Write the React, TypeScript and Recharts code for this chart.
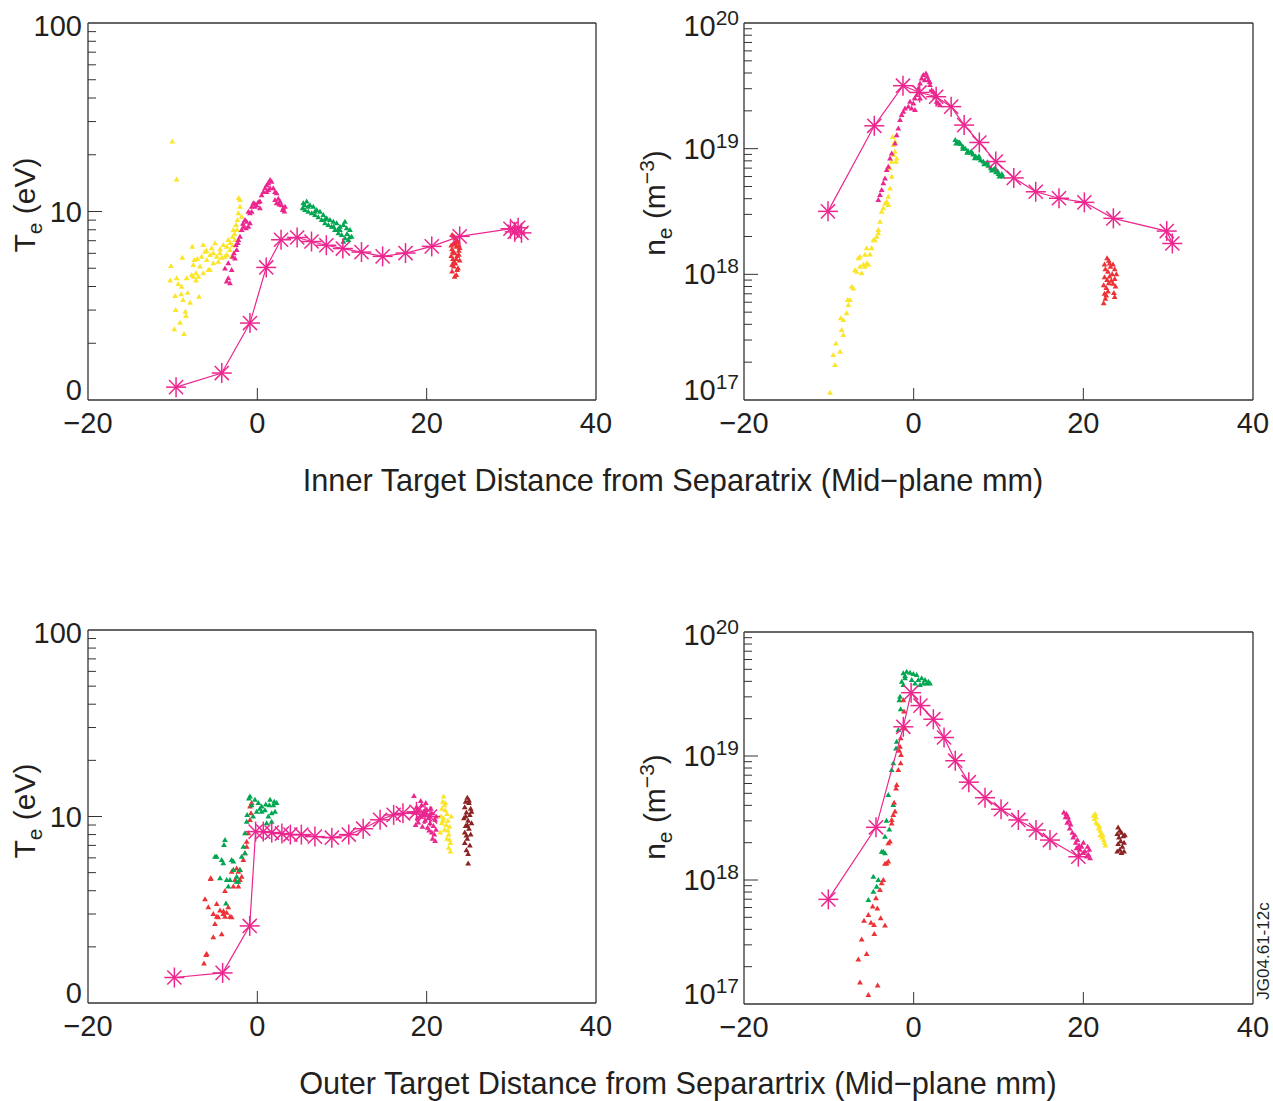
import { ScatterChart, Scatter, XAxis, YAxis, ReferenceLine } from 'recharts'

const YELLOW = '#fbe52a'
const MAGENTA = '#ec268f'
const GREEN = '#00a651'
const RED = '#ed3237'
const BROWN = '#8c2323'
const AXIS = '#333333'
const TEXT = '#231f20'
const FONT = '"Liberation Sans", Arial, Helvetica, sans-serif'

type Pt = [number, number]

const xTicks = [-20, 0, 20, 40]
const teTicks = [1, 2, 3, 4, 5, 6, 7, 8, 9, 10, 20, 30, 40, 50, 60, 70, 80, 90, 100]
const teLabels: Record<number, string> = { 1: '0', 10: '10', 100: '100' }
const neTicks = [
  1e17, 2e17, 3e17, 4e17, 5e17, 6e17, 7e17, 8e17, 9e17,
  1e18, 2e18, 3e18, 4e18, 5e18, 6e18, 7e18, 8e18, 9e18,
  1e19, 2e19, 3e19, 4e19, 5e19, 6e19, 7e19, 8e19, 9e19, 1e20,
]
const neLabels: Record<number, string> = { 1e17: '17', 1e18: '18', 1e19: '19', 1e20: '20' }

// ---- inner target, Te (eV)
const innerTeYellow: Pt[] = [
  [-10.04, 23.5], [-9.53, 14.8], [-10.2, 5.14], [-10.3, 4.3], [-9.7, 3.56], [-9.65, 3.0], [-9.8, 2.37],
  [-8.66, 2.24], [-9.13, 2.57], [-8.5, 2.94], [-8.43, 2.79], [-8.78, 3.39], [-8.23, 3.71], [-9.0, 3.64],
  [-9.33, 4.12], [-9.53, 4.42], [-8.94, 3.99], [-8.86, 5.69], [-8.35, 4.42], [-7.76, 4.61], [-7.95, 3.28],
  [-6.89, 3.53], [-7.25, 4.3], [-7.56, 5.2], [-7.44, 5.53], [-7.68, 6.51], [-6.77, 5.1], [-6.58, 5.76],
  [-6.38, 6.64], [-6.18, 6.12], [-5.98, 5.53], [-5.59, 5.88], [-5.39, 6.38], [-5.0, 6.78], [-5.2, 5.31],
  [-5.79, 4.89], [-6.38, 4.7], [-6.97, 4.51], [-4.8, 5.76], [-4.41, 6.0], [-4.02, 6.64], [-3.62, 6.51],
  [-3.23, 6.25], [-3.82, 5.76], [-3.43, 7.06], [-2.91, 7.35], [-2.83, 7.98], [-2.52, 8.48], [-2.36, 9.02],
  [-2.24, 9.78], [-2.05, 10.6], [-2.05, 11.5], [-1.85, 9.39], [-2.64, 7.06], [-3.03, 5.76], [-7.25, 4.7],
  [-7.56, 4.51], [-5.59, 4.89], [-4.6, 5.42], [-4.21, 5.69], [-2.2, 11.8], [-3.2, 6.8], [-2.9, 6.6],
  [-3.6, 5.9], [-4.4, 6.3], [-5.2, 6.0], [-2.4, 8.0], [-2.7, 7.6], [-6.0, 6.2], [-7.1, 5.6],
]
const innerTeMagenta: Pt[] = [
  [-3.62, 4.25], [-3.43, 4.42], [-3.23, 4.16], [-3.82, 4.99], [-3.03, 4.89], [-3.43, 5.31], [-2.91, 5.76],
  [-2.76, 6.0], [-2.64, 5.64], [-2.44, 6.25], [-2.52, 6.64], [-2.24, 7.06], [-2.05, 7.35], [-1.85, 7.98],
  [-1.65, 8.31], [-1.34, 8.14], [-1.06, 8.31], [-0.87, 8.66], [-1.26, 8.83], [-1.06, 9.98], [-0.67, 10.6],
  [-0.47, 11.05], [-0.08, 10.8], [0.31, 11.3], [0.51, 12.2], [0.71, 12.7], [0.91, 13.3], [1.1, 13.8],
  [1.3, 14.1], [1.5, 14.7], [1.69, 14.4], [1.89, 13.3], [2.09, 12.7], [2.28, 12.5], [2.48, 11.7],
  [2.68, 11.3], [2.87, 10.8], [3.07, 10.4], [3.27, 10.6], [2.28, 11.05], [2.09, 11.5], [1.5, 13.3],
  [1.1, 12.7], [0.31, 10.4], [-0.28, 10.6], [-0.67, 9.98], [-0.87, 9.78], [-1.46, 9.02], [3.0, 10.2],
  [3.2, 10.0], [-0.3, 11.0], [0.1, 11.2], [-1.7, 8.6], [-2.3, 6.8], [1.3, 13.0], [2.6, 10.9],
]
const innerTeGreen: Pt[] = [
  [5.43, 11.05], [5.83, 11.3], [6.22, 10.8], [6.61, 10.6], [7.01, 10.2], [7.4, 9.98], [7.79, 9.58],
  [8.19, 9.2], [8.58, 9.02], [8.98, 8.83], [9.37, 8.66], [9.76, 8.31], [10.16, 8.48], [10.55, 8.14],
  [10.94, 7.98], [11.14, 7.35], [10.75, 7.06], [10.35, 7.21], [9.96, 7.51], [9.57, 7.66], [9.17, 7.98],
  [8.78, 8.31], [8.39, 8.48], [7.99, 8.66], [7.6, 9.02], [7.2, 9.31], [6.81, 9.58], [6.42, 9.78],
  [6.02, 9.98], [5.63, 10.2], [5.35, 10.4], [10.35, 8.83], [9.76, 7.98], [10.16, 6.92], [5.6, 10.8],
  [6.0, 10.6], [6.8, 10.0], [8.0, 9.1], [9.0, 8.3], [9.5, 8.0], [10.6, 7.6], [10.9, 7.3],
]
const innerTeRed: Pt[] = [
  [23.0, 7.5], [23.4, 7.2], [23.7, 6.9], [23.2, 6.8], [23.5, 6.5], [23.0, 6.3], [23.8, 6.2], [23.3, 6.0],
  [23.6, 5.8], [23.1, 5.6], [23.9, 5.5], [23.4, 5.3], [23.2, 5.1], [23.7, 5.0], [23.0, 4.8], [23.5, 4.6],
  [23.3, 4.5], [23.8, 5.9], [22.9, 6.6], [23.6, 7.0], [23.2, 5.4], [23.8, 6.6], [22.9, 5.8], [23.5, 5.6],
  [23.1, 6.1], [23.6, 4.9], [23.2, 7.4], [23.9, 6.4], [23.4, 6.7], [23.0, 5.2],
]
const innerTeStars: Pt[] = [
  [-9.6, 1.17], [-4.2, 1.39], [-0.87, 2.56], [1.05, 5.05], [2.8, 7.08], [4.7, 7.28], [6.4, 6.93],
  [8.15, 6.62], [10.1, 6.36], [12.3, 6.09], [14.8, 5.78], [17.5, 6.02], [20.6, 6.53], [23.9, 7.38],
  [29.9, 8.1], [30.4, 7.8], [30.8, 8.2], [31.2, 7.7],
]

// ---- inner target, ne (m^-3)
const innerNeYellow: Pt[] = [
  [-9.86, 1.14e17], [-9.27, 1.9e17], [-9.47, 2.28e17], [-8.68, 2.42e17], [-9.16, 2.82e17], [-8.29, 3.29e17],
  [-8.49, 3.61e17], [-8.6, 4.47e17], [-8.29, 4.33e17], [-7.9, 4.9e17], [-7.7, 5.7e17], [-7.5, 6.24e17],
  [-7.78, 6.24e17], [-7.31, 7.98e17], [-7.11, 7.73e17], [-6.92, 1.08e18], [-6.72, 1.05e18], [-6.33, 1.15e18],
  [-6.13, 1.02e18], [-5.93, 1.19e18], [-5.74, 1.15e18], [-5.54, 1.22e18], [-5.34, 1.19e18], [-6.52, 1.34e18],
  [-6.33, 1.38e18], [-5.74, 1.43e18], [-5.54, 1.61e18], [-5.15, 1.44e18], [-4.95, 1.61e18], [-4.75, 1.87e18],
  [-4.36, 1.99e18], [-4.17, 2.12e18], [-4.56, 1.87e18], [-3.97, 2.62e18], [-3.77, 3.15e18], [-3.58, 3.35e18],
  [-3.38, 3.66e18], [-3.18, 3.78e18], [-2.99, 4.15e18], [-2.79, 4.83e18], [-2.59, 5.98e18], [-2.79, 6.97e18],
  [-2.59, 7.87e18], [-2.4, 8.89e18], [-2.2, 9.46e18], [-2.4, 1.07e19], [-2.2, 1.14e19], [-2.48, 1.24e19],
  [-2.08, 7.87e18], [-2.0, 8.36e18], [-2.99, 3.56e18], [-4.17, 2.25e18],
]
const innerNeMagenta: Pt[] = [
  [-4.17, 3.9e18], [-3.97, 4.28e18], [-3.77, 4.69e18], [-3.58, 5.3e18], [-3.38, 5.8e18], [-3.18, 6.76e18],
  [-2.99, 7.18e18], [-2.79, 8.36e18], [-2.59, 9.16e18], [-2.2, 1.1e19], [-2.0, 1.28e19], [-1.81, 1.45e19],
  [-1.61, 1.69e19], [-1.42, 1.85e19], [-1.22, 1.97e19], [-1.02, 2.09e19], [-0.63, 2.16e19], [-0.24, 2.09e19],
  [0.16, 2.03e19], [-0.43, 2.36e19], [-0.04, 2.29e19], [0.35, 2.67e19], [0.55, 3.01e19], [0.75, 3.3e19],
  [0.94, 3.62e19], [1.14, 3.85e19], [1.45, 3.97e19], [1.61, 3.73e19], [1.73, 3.52e19], [1.93, 3.21e19],
  [2.12, 2.92e19], [2.32, 2.84e19], [2.51, 2.59e19], [2.71, 2.36e19], [2.91, 2.29e19], [3.1, 2.22e19],
  [0.75, 2.51e19], [0.16, 2.51e19], [1.3, 3.5e19], [1.9, 3.4e19], [2.6, 2.7e19],
]
const innerNeGreen: Pt[] = [
  [4.9, 1.17e19], [5.2, 1.13e19], [5.5, 1.09e19], [5.8, 1.04e19], [6.1, 1.0e19], [6.4, 9.6e18], [6.7, 9.3e18],
  [7.0, 9.0e18], [7.3, 8.7e18], [7.6, 8.4e18], [7.9, 8.1e18], [8.2, 7.9e18], [8.5, 7.6e18], [8.8, 7.3e18],
  [9.1, 7.0e18], [9.4, 6.8e18], [9.7, 6.5e18], [10.0, 6.3e18], [10.3, 6.1e18], [10.5, 6.0e18], [5.0, 1.1e19],
  [5.4, 1.12e19], [5.8, 1.0e19], [6.3, 9.3e18], [6.8, 9.5e18], [7.2, 8.4e18], [7.7, 8.7e18], [8.3, 7.5e18],
  [8.7, 7.8e18], [9.2, 6.7e18], [9.6, 7.0e18], [10.1, 6.0e18], [10.4, 6.3e18], [9.9, 6.6e18],
]
const innerNeRed: Pt[] = [
  [22.5, 1.2e18], [22.8, 1.34e18], [23.0, 1.28e18], [22.6, 1.1e18], [22.9, 1.05e18], [23.2, 1.15e18],
  [23.5, 1.2e18], [23.7, 1.1e18], [22.5, 9.5e17], [22.8, 9.0e17], [23.1, 9.6e17], [23.4, 1.0e18],
  [23.7, 9.2e17], [23.9, 1.0e18], [22.4, 8.2e17], [22.7, 7.8e17], [23.0, 8.5e17], [23.5, 8.4e17],
  [23.8, 8.0e17], [22.5, 7.0e17], [22.6, 6.4e17], [22.4, 5.9e17], [22.7, 6.8e17], [23.6, 7.1e17],
  [23.7, 6.6e17], [23.1, 1.22e18], [22.9, 7.3e17], [23.3, 8.9e17],
]
const innerNeStars: Pt[] = [
  [-10.1, 3.17e18], [-4.64, 1.52e19], [-1.26, 3.17e19], [0.7, 2.8e19], [2.65, 2.59e19], [4.42, 2.16e19],
  [5.95, 1.54e19], [7.74, 1.12e19], [9.68, 7.9e18], [11.8, 5.85e18], [14.39, 4.54e18], [17.13, 4.03e18],
  [20.12, 3.74e18], [23.54, 2.79e18], [29.83, 2.21e18], [30.49, 1.76e18],
]

// ---- outer target, Te (eV)
const outerTeGreen: Pt[] = [
  [-0.87, 12.8], [-0.28, 12.3], [0.12, 11.8], [0.51, 11.3], [0.9, 10.8], [1.5, 12.3], [1.89, 11.5],
  [2.09, 10.6], [1.69, 10.4], [1.3, 10.0], [1.69, 9.38], [1.1, 9.19], [0.51, 10.6], [-0.08, 10.6],
  [-0.67, 11.5], [-1.26, 9.38], [-1.46, 8.12], [-1.65, 6.89], [-1.85, 6.09], [-1.46, 6.35], [-2.05, 5.17],
  [-2.44, 4.76], [-2.24, 4.47], [-2.83, 5.73], [-3.03, 5.85], [-3.23, 4.57], [-3.43, 4.21], [-3.62, 4.57],
  [-4.41, 4.66], [-4.02, 5.61], [-4.21, 5.85], [-4.8, 6.09], [-5.0, 6.09], [-3.82, 7.48], [-3.94, 7.03],
  [-3.7, 3.42], [-2.83, 5.17], [-2.44, 4.47], [2.28, 11.8], [1.42, 11.5], [-1.0, 12.5], [0.3, 11.0],
  [1.0, 11.6], [2.0, 12.0], [-0.5, 10.0], [-1.2, 10.2],
]
const outerTeRed: Pt[] = [
  [-6.18, 3.6], [-5.79, 3.26], [-5.98, 1.83], [-5.2, 2.25], [-5.0, 2.65], [-4.8, 3.4], [-4.61, 2.88],
  [-4.41, 3.13], [-4.21, 2.34], [-4.02, 3.0], [-3.82, 2.9], [-3.62, 3.05], [-3.43, 3.26], [-3.23, 2.9],
  [-3.03, 2.88], [-5.51, 4.62], [-3.82, 3.99], [-3.03, 5.06], [-2.83, 5.17], [-2.44, 5.27], [-2.05, 5.17],
  [-1.85, 4.76], [-2.24, 4.21], [-2.64, 4.57], [-2.83, 4.21], [-1.65, 5.85], [-1.46, 6.35], [-1.26, 6.89],
  [-1.26, 7.33], [-1.06, 8.12], [-0.87, 9.58], [-0.75, 10.4], [-0.87, 11.3], [-0.67, 11.8], [-2.24, 5.06],
  [-2.05, 4.57], [-4.8, 2.9], [-6.06, 1.81], [-6.3, 1.63], [-5.5, 4.66], [-5.2, 3.0], [-4.0, 3.1],
]
const outerTeMagenta: Pt[] = [
  [18.5, 12.9], [18.5, 10.5], [18.8, 11.2], [19.0, 10.8], [19.2, 10.0], [19.4, 11.5], [19.6, 10.3],
  [19.8, 9.5], [20.0, 10.9], [20.2, 9.8], [20.4, 9.2], [20.6, 10.4], [20.8, 8.9], [21.0, 9.6], [21.1, 8.5],
  [20.9, 8.0], [20.7, 7.6], [21.0, 7.4], [19.0, 9.3], [18.7, 9.0], [19.5, 8.8], [20.3, 8.4], [19.9, 11.8],
  [19.3, 12.1], [20.5, 11.0], [18.9, 9.8], [20.1, 8.7], [21.1, 10.0], [20.6, 8.2], [19.7, 10.6],
]
const outerTeYellow: Pt[] = [
  [22.0, 12.8], [21.9, 12.0], [22.1, 11.5], [21.8, 11.0], [22.2, 10.8], [22.4, 10.3], [21.7, 10.0],
  [22.0, 9.8], [22.5, 9.5], [22.3, 9.0], [21.8, 9.2], [22.7, 8.8], [22.1, 8.5], [22.6, 8.0], [22.4, 7.6],
  [22.8, 7.2], [22.6, 6.8], [22.8, 6.5], [21.6, 8.2], [22.9, 10.0], [22.2, 11.8], [22.5, 8.4], [21.9, 9.5],
  [22.7, 7.5],
]
const outerTeBrown: Pt[] = [
  [24.8, 12.6], [24.6, 12.0], [25.0, 11.8], [24.5, 11.2], [25.2, 11.0], [24.7, 10.5], [25.1, 10.2],
  [24.4, 9.8], [24.9, 9.5], [25.3, 9.2], [24.6, 8.9], [25.0, 8.6], [24.5, 8.2], [25.2, 8.0], [24.8, 7.6],
  [24.5, 7.2], [25.1, 7.0], [24.7, 6.6], [24.9, 6.3], [24.9, 5.6], [24.6, 10.0], [25.0, 12.2], [24.8, 9.0],
  [25.3, 10.6], [24.7, 7.9],
]
const outerTeStars: Pt[] = [
  [-9.8, 1.37], [-4.1, 1.45], [-0.9, 2.59], [-0.2, 8.3], [0.7, 8.3], [1.7, 8.2], [2.9, 8.1], [3.9, 8.0],
  [5.2, 8.0], [6.8, 7.8], [8.8, 7.7], [10.8, 8.0], [12.5, 8.6], [14.5, 9.6], [16.1, 10.2], [17.2, 10.4],
  [18.8, 10.6], [19.8, 10.3], [20.4, 10.0],
]

// ---- outer target, ne (m^-3)
const outerNeGreen: Pt[] = [
  [-1.22, 4.64e19], [-0.82, 4.79e19], [-0.43, 4.7e19], [-0.04, 4.58e19], [0.35, 4.5e19], [0.94, 4.23e19],
  [1.34, 4.1e19], [1.73, 3.97e19], [1.53, 3.85e19], [1.14, 3.85e19], [0.75, 3.73e19], [0.16, 3.85e19],
  [-0.23, 4.1e19], [-1.02, 4.23e19], [-1.41, 3.97e19], [-1.22, 3.73e19], [-1.61, 3.01e19], [-1.69, 2.82e19],
  [-1.53, 2.38e19], [-1.81, 1.62e19], [-2.08, 1.15e19], [-2.4, 8.73e18], [-2.59, 7.71e18], [-2.99, 4.84e18],
  [-2.4, 4.03e18], [-2.87, 2.56e18], [-3.38, 2.23e18], [-3.77, 1.69e18], [-3.38, 1.64e18], [-4.75, 1.06e18],
  [-4.17, 1.0e18], [-4.36, 8.83e17], [-4.75, 8.05e17], [-5.34, 6.9e17], [-3.58, 1.69e18], [-1.02, 4.42e19],
  [0.55, 4.1e19], [1.93, 3.85e19], [-2.0, 1.3e19], [-3.2, 3.0e18],
]
const outerNeRed: Pt[] = [
  [-1.22, 2.82e19], [-1.14, 2.28e19], [-1.02, 1.67e19], [-1.53, 1.39e19], [-1.61, 1.19e19], [-1.49, 1.02e19],
  [-1.53, 8.73e18], [-1.81, 7.71e18], [-2.0, 5.83e18], [-2.08, 5.48e18], [-2.2, 3.56e18], [-2.4, 3.34e18],
  [-2.59, 3.05e18], [-2.59, 2.86e18], [-2.79, 2.04e18], [-2.99, 1.98e18], [-3.18, 1.36e18], [-2.99, 1.41e18],
  [-3.38, 1.35e18], [-3.77, 9.4e17], [-3.58, 1.0e18], [-3.97, 8.3e17], [-4.44, 7.11e17], [-4.83, 6.1e17],
  [-4.28, 5.9e17], [-5.34, 5.22e17], [-3.89, 4.91e17], [-5.85, 4.7e17], [-5.03, 4.53e17], [-4.67, 4.34e17],
  [-3.38, 4.29e17], [-4.64, 3.67e17], [-6.13, 3.32e17], [-5.54, 2.53e17], [-6.52, 2.29e17], [-6.33, 1.49e17],
  [-4.24, 1.41e17], [-5.34, 1.18e17], [-1.7, 1.1e19], [-2.3, 4.2e18],
]
const outerNeMagenta: Pt[] = [
  [17.7, 3.5e18], [17.9, 3.2e18], [18.0, 3.4e18], [18.1, 2.9e18], [18.3, 3.0e18], [18.4, 2.6e18],
  [18.5, 2.8e18], [18.7, 2.4e18], [18.8, 2.2e18], [19.0, 2.3e18], [19.1, 2.0e18], [19.3, 2.1e18],
  [19.5, 1.9e18], [19.6, 1.75e18], [19.8, 1.85e18], [20.0, 1.65e18], [20.2, 1.7e18], [20.4, 1.55e18],
  [20.6, 1.6e18], [20.7, 1.75e18], [20.5, 1.85e18], [20.0, 2.0e18], [19.5, 1.6e18], [20.8, 1.5e18],
  [18.2, 3.2e18], [19.2, 1.8e18],
]
const outerNeYellow: Pt[] = [
  [21.2, 3.3e18], [21.3, 3.1e18], [21.5, 3.2e18], [21.5, 2.9e18], [21.7, 2.8e18], [21.8, 2.6e18],
  [21.9, 2.7e18], [22.0, 2.5e18], [22.1, 2.35e18], [22.2, 2.2e18], [22.3, 2.3e18], [22.4, 2.1e18],
  [22.5, 2.0e18], [22.6, 1.9e18], [21.4, 3.4e18], [22.0, 2.3e18],
]
const outerNeBrown: Pt[] = [
  [24.1, 2.65e18], [24.3, 2.5e18], [24.0, 2.35e18], [24.5, 2.4e18], [24.2, 2.2e18], [24.7, 2.25e18],
  [24.4, 2.05e18], [24.8, 2.0e18], [24.1, 1.95e18], [24.6, 1.85e18], [24.3, 1.75e18], [24.8, 1.7e18],
  [24.5, 1.65e18], [24.0, 1.7e18], [24.9, 2.3e18],
]
const outerNeStars: Pt[] = [
  [-10.06, 6.98e17], [-4.44, 2.66e18], [-1.22, 1.72e19], [-0.3, 3.24e19], [0.8, 2.55e19], [2.32, 1.98e19],
  [3.58, 1.41e19], [4.9, 9.16e18], [6.5, 6.15e18], [8.41, 4.61e18], [10.3, 3.72e18], [12.34, 3.05e18],
  [14.42, 2.53e18], [16.07, 2.1e18], [19.41, 1.54e18],
]

const toPts = (a: Pt[]) => a.map(([x, y]) => ({ x, y }))

const triangle = (color: string) => (p: any) => {
  const { cx, cy } = p
  if (cx == null || cy == null) return <g />
  return <path d={`M${cx},${cy - 3}L${cx + 2.9},${cy + 2}L${cx - 2.9},${cy + 2}Z`} fill={color} />
}

const StarShape = (p: any) => {
  const { cx, cy } = p
  if (cx == null || cy == null) return <g />
  const r = 10
  const d = r * 0.7071
  return (
    <g stroke={MAGENTA} strokeWidth={1.5}>
      <line x1={cx - r} y1={cy} x2={cx + r} y2={cy} />
      <line x1={cx} y1={cy - r} x2={cx} y2={cy + r} />
      <line x1={cx - d} y1={cy - d} x2={cx + d} y2={cy + d} />
      <line x1={cx - d} y1={cy + d} x2={cx + d} y2={cy - d} />
    </g>
  )
}

const XTick = (props: any) => {
  const { x, y, payload } = props
  const v = payload.value
  const inner = v !== xTicks[0] && v !== xTicks[xTicks.length - 1]
  return (
    <g>
      {inner && <line x1={x} x2={x} y1={y} y2={y - 12} stroke={AXIS} strokeWidth={1} />}
      <text x={x} y={y + 33} textAnchor="middle" fontSize={29} fill={TEXT} fontFamily={FONT}>
        {v < 0 ? `\u2212${-v}` : v}
      </text>
    </g>
  )
}

function makeYTick(labels: Record<number, string>, lo: number, hi: number, power: boolean) {
  return (props: any) => {
    const { x, y, payload } = props
    const v = payload.value
    const label = labels[v]
    const edge = v === lo || v === hi
    const len = label !== undefined ? 14 : 8
    const ty = v === lo ? y - 10 : v === hi ? y + 3 : y
    return (
      <g>
        {!edge && <line x1={x} x2={x + len} y1={y} y2={y} stroke={AXIS} strokeWidth={1} />}
        {label !== undefined &&
          (power ? (
            <text x={x - 5} y={ty + 10} textAnchor="end" fontSize={29} fill={TEXT} fontFamily={FONT}>
              10<tspan dy={-11} fontSize={21}>{label}</tspan>
            </text>
          ) : (
            <text x={x - 6} y={ty + 10} textAnchor="end" fontSize={29} fill={TEXT} fontFamily={FONT}>
              {label}
            </text>
          ))}
      </g>
    )
  }
}

type Group = { data: Pt[]; color: string }

function Panel(props: {
  left: number
  top: number
  width: number
  height: number
  marginTop: number
  marginRight: number
  yWidth: number
  domain: [number, number]
  ticks: number[]
  labels: Record<number, string>
  power: boolean
  groups: Group[]
  stars: Pt[]
}) {
  const { left, top, width, height, marginTop, marginRight, yWidth, domain, ticks, labels, power, groups, stars } = props
  return (
    <div style={{ position: 'absolute', left, top }}>
      <ScatterChart width={width} height={height} margin={{ top: marginTop, right: marginRight, bottom: 0, left: 0 }}>
        <XAxis
          type="number"
          dataKey="x"
          domain={[-20, 40]}
          ticks={xTicks}
          interval={0}
          height={70}
          tickSize={0}
          tickMargin={0}
          tickLine={false}
          axisLine={{ stroke: AXIS, strokeWidth: 1.3 }}
          tick={XTick}
          allowDataOverflow
        />
        <YAxis
          type="number"
          dataKey="y"
          scale="log"
          domain={domain}
          ticks={ticks}
          interval={0}
          width={yWidth}
          tickSize={0}
          tickMargin={0}
          tickLine={false}
          axisLine={{ stroke: AXIS, strokeWidth: 1.3 }}
          tick={makeYTick(labels, domain[0], domain[1], power)}
          allowDataOverflow
        />
        <ReferenceLine y={domain[1]} stroke={AXIS} strokeWidth={1.3} />
        <ReferenceLine x={40} stroke={AXIS} strokeWidth={1.3} />
        {groups.map((g, i) => (
          <Scatter key={i} data={toPts(g.data)} shape={triangle(g.color)} isAnimationActive={false} />
        ))}
        <Scatter
          data={toPts(stars)}
          shape={StarShape}
          line={{ stroke: MAGENTA, strokeWidth: 1.2 }}
          isAnimationActive={false}
        />
      </ScatterChart>
    </div>
  )
}

export default function App() {
  const txt = { fill: TEXT, fontFamily: FONT }
  return (
    <div style={{ position: 'absolute', left: 0, top: 0, width: 1273, height: 1101, background: '#fff' }}>
      <Panel
        left={0} top={0} width={640} height={470} marginTop={23} marginRight={44} yWidth={88}
        domain={[1, 100]} ticks={teTicks} labels={teLabels} power={false}
        groups={[
          { data: innerTeYellow, color: YELLOW },
          { data: innerTeMagenta, color: MAGENTA },
          { data: innerTeGreen, color: GREEN },
          { data: innerTeRed, color: RED },
        ]}
        stars={innerTeStars}
      />
      <Panel
        left={640} top={0} width={633} height={470} marginTop={23} marginRight={20} yWidth={104}
        domain={[1e17, 1e20]} ticks={neTicks} labels={neLabels} power
        groups={[
          { data: innerNeYellow, color: YELLOW },
          { data: innerNeMagenta, color: MAGENTA },
          { data: innerNeGreen, color: GREEN },
          { data: innerNeRed, color: RED },
        ]}
        stars={innerNeStars}
      />
      <Panel
        left={0} top={600} width={640} height={473} marginTop={30} marginRight={44} yWidth={88}
        domain={[1, 100]} ticks={teTicks} labels={teLabels} power={false}
        groups={[
          { data: outerTeRed, color: RED },
          { data: outerTeGreen, color: GREEN },
          { data: outerTeMagenta, color: MAGENTA },
          { data: outerTeYellow, color: YELLOW },
          { data: outerTeBrown, color: BROWN },
        ]}
        stars={outerTeStars}
      />
      <Panel
        left={640} top={600} width={633} height={474} marginTop={32} marginRight={20} yWidth={104}
        domain={[1e17, 1e20]} ticks={neTicks} labels={neLabels} power
        groups={[
          { data: outerNeGreen, color: GREEN },
          { data: outerNeRed, color: RED },
          { data: outerNeMagenta, color: MAGENTA },
          { data: outerNeYellow, color: YELLOW },
          { data: outerNeBrown, color: BROWN },
        ]}
        stars={outerNeStars}
      />
      <svg width={1273} height={1101} style={{ position: 'absolute', left: 0, top: 0, pointerEvents: 'none' }}>
        <text transform="rotate(-90 35 205)" x={35} y={205} textAnchor="middle" fontSize={30} {...txt}>
          T<tspan dy={7} fontSize={21}>e</tspan><tspan dy={-7}> (eV)</tspan>
        </text>
        <text transform="rotate(-90 35 811)" x={35} y={811} textAnchor="middle" fontSize={30} {...txt}>
          T<tspan dy={7} fontSize={21}>e</tspan><tspan dy={-7}> (eV)</tspan>
        </text>
        <text transform="rotate(-90 665 203)" x={665} y={203} textAnchor="middle" fontSize={30} {...txt}>
          n<tspan dy={7} fontSize={21}>e</tspan><tspan dy={-7}> (m</tspan><tspan dy={-11} fontSize={21}>{'\u22123'}</tspan><tspan dy={11}>)</tspan>
        </text>
        <text transform="rotate(-90 665 807)" x={665} y={807} textAnchor="middle" fontSize={30} {...txt}>
          n<tspan dy={7} fontSize={21}>e</tspan><tspan dy={-7}> (m</tspan><tspan dy={-11} fontSize={21}>{'\u22123'}</tspan><tspan dy={11}>)</tspan>
        </text>
        <text x={673} y={491} textAnchor="middle" fontSize={30.7} {...txt}>
          Inner Target Distance from Separatrix (Mid{'\u2212'}plane mm)
        </text>
        <text x={678} y={1094} textAnchor="middle" fontSize={30.7} {...txt}>
          Outer Target Distance from Separartrix (Mid{'\u2212'}plane mm)
        </text>
        <text transform="rotate(-90 1269 951)" x={1269} y={951} textAnchor="middle" fontSize={17} {...txt}>
          JG04.61-12c
        </text>
      </svg>
    </div>
  )
}
